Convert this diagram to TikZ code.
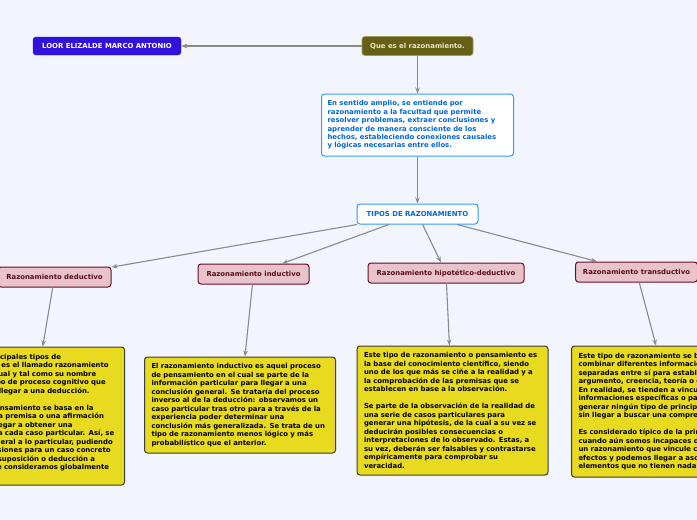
\documentclass[tikz,border=0pt]{standalone}
\usepackage{fontspec}
\setmainfont{DejaVu Sans}
\usetikzlibrary{arrows.meta}
\definecolor{bgc}{HTML}{F2F5FE}
\definecolor{loorc}{HTML}{3311DD}
\definecolor{quec}{HTML}{665F16}
\definecolor{queb}{HTML}{A09A60}
\definecolor{quet}{HTML}{ECE6C4}
\definecolor{blueb}{HTML}{3399FF}
\definecolor{bluet}{HTML}{0066DD}
\definecolor{pinkf}{HTML}{E8C4CA}
\definecolor{pinkb}{HTML}{6B0A2A}
\definecolor{pinkt}{HTML}{5A0A20}
\definecolor{yelf}{HTML}{E8DA1E}
\definecolor{yelb}{HTML}{3A3A3A}
\definecolor{arrc}{HTML}{8A8A8A}
\tikzset{
  base/.style={rounded corners=3pt, inner sep=0pt, font=\bfseries\fontsize{6.9}{8.4}\selectfont},
  loorbox/.style={base, fill=loorc, draw=loorc, text=white, minimum width=148pt, minimum height=18pt},
  quebox/.style={base, fill=quec, draw=queb, line width=0.8pt, text=quet, minimum width=111pt, minimum height=19pt},
  defbox/.style={base, fill=white, draw=blueb, line width=1pt, text=bluet, align=left, text width=180pt, inner xsep=6pt, minimum height=62pt},
  tipobox/.style={base, fill=white, draw=blueb, line width=1pt, text=bluet, minimum height=20pt},
  pinkbox/.style={base, fill=pinkf, draw=pinkb, line width=1pt, text=pinkt, minimum height=20pt},
  yelbox/.style={base, fill=yelf, draw=yelb, line width=1pt, text=black, align=left, inner xsep=7pt, font=\bfseries\fontsize{6.9}{8.5}\selectfont},
  conn/.style={draw=arrc, line width=1.1pt, -{Stealth[length=6pt,width=4.5pt]}}
}
\begin{document}
\begin{tikzpicture}[x=1pt,y=-1pt]
\useasboundingbox (0,0) rectangle (697,520);
\clip (0,0) rectangle (697,520);
\fill[bgc] (0,0) rectangle (697,520);

\node[loorbox] (loor) at (107,46) {LOOR ELIZALDE MARCO ANTONIO};
\node[quebox] (que) at (417.5,46) {Que es el razonamiento.};
\node[defbox] (def) at (417.5,125) {En sentido amplio, se entiende por\\razonamiento a la facultad que permite\\resolver problemas, extraer conclusiones y\\aprender de manera consciente de los\\hechos, estableciendo conexiones causales\\y lógicas necesarias entre ellos.};
\node[tipobox, minimum width=121pt] (tipos) at (417.5,214) {TIPOS DE RAZONAMIENTO};

\node[pinkbox, minimum width=113pt] (ded) at (54.5,277) {Razonamiento deductivo};
\node[pinkbox, minimum width=111pt] (ind) at (253.5,274) {Razonamiento inductivo};
\node[pinkbox, minimum width=156pt] (hip) at (446,273) {Razonamiento hipotético-deductivo};
\node[pinkbox, minimum width=122pt] (tra) at (636.5,272) {Razonamiento transductivo};

\node[yelbox, text width=179pt, inner xsep=4pt, minimum height=138pt, anchor=east] (yded) at (125,416) {Uno de los principales tipos de\\razonamientos es el llamado razonamiento\\deductivo, el cual y tal como su nombre\\indica es un tipo de proceso cognitivo que\\se utiliza para llegar a una deducción.\\[8.5pt]Este tipo de pensamiento se basa en la\\creencia de una premisa o una afirmación\\general para llegar a obtener una\\conclusión para cada caso particular. Así, se\\parte de lo general a lo particular, pudiendo\\extraer conclusiones para un caso concreto\\en base a una suposición o deducción a\\partir de lo que consideramos globalmente\\cierto.};
\node[yelbox, text width=177pt, minimum height=96pt] (yind) at (240,405) {El razonamiento inductivo es aquel proceso\\de pensamiento en el cual se parte de la\\información particular para llegar a una\\conclusión general. Se trataría del proceso\\inverso al de la deducción: observamos un\\caso particular tras otro para a través de la\\experiencia poder determinar una\\conclusión más generalizada. Se trata de un\\tipo de razonamiento menos lógico y más\\probabilístico que el anterior.};
\node[yelbox, text width=177pt, minimum height=129pt] (yhip) at (452.5,410.5) {Este tipo de razonamiento o pensamiento es\\la base del conocimiento científico, siendo\\uno de los que más se ciñe a la realidad y a\\la comprobación de las premisas que se\\establecen en base a la observación.\\[8.5pt]Se parte de la observación de la realidad de\\una serie de casos particulares para\\generar una hipótesis, de la cual a su vez se\\deducirán posibles consecuencias o\\interpretaciones de lo observado. Estas, a\\su vez, deberán ser falsables y contrastarse\\empíricamente para comprobar su\\veracidad.};
\node[yelbox, text width=190pt, minimum height=131pt, anchor=west] (ytra) at (571,411.5) {Este tipo de razonamiento se basa en\\combinar diferentes informaciones\\separadas entre sí para establecer un\\argumento, creencia, teoría o conclusión.\\En realidad, se tienden a vincular\\informaciones específicas o particulares sin\\generar ningún tipo de principio o teoría,\\sin llegar a buscar una comprensión.\\[8.5pt]Es considerado típico de la primera infancia,\\cuando aún somos incapaces de realizar\\un razonamiento que vincule causas y\\efectos y podemos llegar a asociar\\elementos que no tienen nada que ver.};

\draw[conn] (que) -- (loor);
\draw[conn] (que) -- (def);
\draw[conn] (def) -- (tipos);
\draw[conn] (tipos) -- (ded);
\draw[conn] (tipos) -- (ind);
\draw[conn] (tipos) -- (hip);
\draw[conn] (tipos) -- (tra);
\draw[conn] (ded) -- (yded);
\draw[conn] (ind) -- (yind);
\draw[conn] (hip) -- (yhip);
\draw[conn] (tra) -- (ytra);
\end{tikzpicture}
\end{document}
